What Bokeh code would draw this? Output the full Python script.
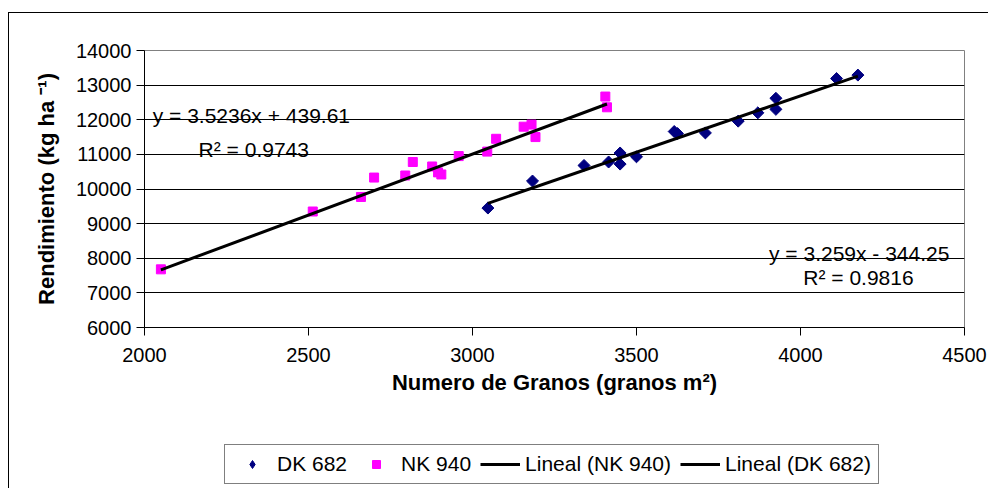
import math
from bokeh.plotting import figure
from bokeh.layouts import column
from bokeh.models import Legend, LegendItem, Label, FixedTicker, Range1d
from bokeh.embed import file_html
from bokeh.resources import INLINE

# ---- data ----
nk_x = [2050, 2513, 2660, 2700, 2795, 2818, 2877, 2895, 2905, 2958, 3045, 3072, 3156, 3180, 3192, 3405, 3410]
nk_y = [7680, 9350, 9770, 10330, 10390, 10780, 10650, 10480, 10420, 10950, 11080, 11450, 11800, 11860, 11500, 12670, 12360]

dk_x = [3047, 3183, 3340, 3415, 3450, 3450, 3500, 3615, 3625, 3710, 3810, 3870, 3925, 3925, 4110, 4175]
dk_y = [9450, 10230, 10680, 10780, 11040, 10720, 10930, 11660, 11600, 11620, 11960, 12200, 12620, 12300, 13190, 13290]

nk_fit = (3.5236, 439.61, 0.9743)
dk_fit = (3.259, -344.25, 0.9816)

x_ticks = [2000, 2500, 3000, 3500, 4000, 4500]
y_ticks = [6000, 7000, 8000, 9000, 10000, 11000, 12000, 13000, 14000]

series_names = ["DK 682", "NK 940", "Lineal (NK 940)", "Lineal (DK 682)"]

FONT = "Liberation Sans"
DK_COLOR = "#000080"
NK_COLOR = "#FF00FF"

p = figure(width=979, height=420, output_backend="svg", toolbar_location=None,
           x_range=Range1d(x_ticks[0], x_ticks[-1]), y_range=Range1d(y_ticks[0], y_ticks[-1]),
           min_border_left=135, min_border_right=24, min_border_top=37, min_border_bottom=106)

p.background_fill_color = "white"
p.border_fill_color = "white"
p.outline_line_color = "#808080"
p.outline_line_width = 1

p.xaxis.ticker = FixedTicker(ticks=x_ticks)
p.yaxis.ticker = FixedTicker(ticks=y_ticks)
p.xgrid.visible = False
p.ygrid.ticker = FixedTicker(ticks=y_ticks)
p.ygrid.grid_line_color = "black"
p.ygrid.grid_line_width = 1

for ax in (p.xaxis[0], p.yaxis[0]):
    ax.axis_line_color = "black"
    ax.axis_line_width = 1
    ax.major_tick_line_color = "black"
    ax.major_tick_out = 8
    ax.major_tick_in = 0
    ax.minor_tick_line_color = None
    ax.major_label_text_font = FONT
    ax.major_label_text_font_size = "20px"
    ax.major_label_text_color = "black"
    ax.axis_label_text_font = FONT
    ax.axis_label_text_font_size = "22px"
    ax.axis_label_text_font_style = "bold"
    ax.axis_label_text_color = "black"

p.xaxis.axis_label = "Numero de Granos (granos m²)"
p.yaxis.axis_label = "Rendimiento (kg ha ⁻¹)"
p.xaxis.major_label_standoff = 12
p.xaxis.axis_label_standoff = 5
p.yaxis.major_label_standoff = 5
p.yaxis.axis_label_standoff = 14

# trend lines from the printed equations
nk_lx = [min(nk_x), max(nk_x)]
nk_ly = [nk_fit[0] * v + nk_fit[1] for v in nk_lx]
dk_lx = [min(dk_x), max(dk_x)]
dk_ly = [dk_fit[0] * v + dk_fit[1] for v in dk_lx]

DIAMOND = dict(marker="square", angle=math.pi / 4, size=8.5, fill_color=DK_COLOR, line_color=DK_COLOR)
SQUARE = dict(marker="square", size=9, fill_color=NK_COLOR, line_color=NK_COLOR)
TREND = dict(line_color="black", line_width=3)

p.scatter(dk_x, dk_y, **DIAMOND)
p.scatter(nk_x, nk_y, **SQUARE)
p.line(nk_lx, nk_ly, **TREND)
p.line(dk_lx, dk_ly, **TREND)

def lab(x, y, t, align="left"):
    p.add_layout(Label(x=x, y=y, text=t, text_align=align, text_baseline="alphabetic",
                       text_font=FONT, text_font_size="21px", text_color="black"))

lab(2025, 12120, f"y = {nk_fit[0]}x + {nk_fit[1]}")
lab(2165, 11140, f"R² = {nk_fit[2]}")
lab(4454, 8137, f"y = {dk_fit[0]}x - {abs(dk_fit[1])}", "right")
lab(4345, 7444, f"R² = {dk_fit[2]}", "right")

# ---- legend strip below the chart (its frame is aligned with the chart's frame) ----
q = figure(width=979, height=55, output_backend="svg", toolbar_location=None,
           x_range=Range1d(0, 1), y_range=Range1d(0, 1),
           x_axis_type=None, y_axis_type=None,
           min_border_left=0, min_border_right=0, min_border_top=0, min_border_bottom=0)
q.outline_line_color = None
q.background_fill_color = "white"
q.border_fill_color = "white"
q.xgrid.visible = False
q.ygrid.visible = False

# legend-key renderers (hidden; they only supply the legend swatches)
k_dk = q.scatter(dk_x, dk_y, visible=False, marker="diamond", fill_color=DK_COLOR, line_color=DK_COLOR)
k_nk = q.scatter(nk_x, nk_y, visible=False, **SQUARE)
k_nkl = q.line(nk_lx, nk_ly, visible=False, **TREND)
k_dkl = q.line(dk_lx, dk_ly, visible=False, **TREND)

legend = Legend(items=[
    LegendItem(label=series_names[0], renderers=[k_dk]),
    LegendItem(label=series_names[1], renderers=[k_nk]),
    LegendItem(label=series_names[2], renderers=[k_nkl]),
    LegendItem(label=series_names[3], renderers=[k_dkl]),
], orientation="horizontal", location=(80, 4))
legend.label_text_font = FONT
legend.label_text_font_size = "21px"
legend.label_text_color = "black"
legend.border_line_color = "black"
legend.border_line_width = 1
legend.background_fill_color = "white"
legend.background_fill_alpha = 1
legend.inactive_fill_alpha = 0
legend.glyph_width = 40
legend.glyph_height = 20
legend.spacing = 9
legend.padding = 7
legend.label_standoff = 5
legend.margin = 0
q.add_layout(legend, "center")

layout = column(p, q, spacing=0)
layout.styles = {"border-top": "1px solid black", "border-left": "1px solid black",
                 "margin-top": "12px", "margin-left": "8px"}

open("out.html", "w").write(file_html(layout, INLINE))
